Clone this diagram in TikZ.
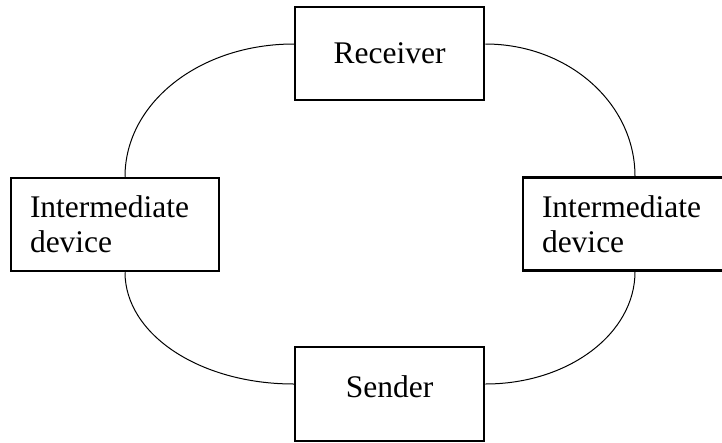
\documentclass[tikz,border=0pt]{standalone}
\usepackage{fontspec}
\setmainfont{Liberation Serif}
\begin{document}
\begin{tikzpicture}[x=1pt, y=-1pt,
  box/.style={draw, rectangle, line width=2.5pt, inner sep=0pt,
    font=\fontsize{31.5}{35}\selectfont},
  endbox/.style={box, minimum width=189pt},
  sidebox/.style={box, minimum width=208pt, minimum height=93pt,
    text width=170pt, align=left},
  link/.style={line width=1pt}]
  \useasboundingbox (0,0) rectangle (722,442);

  % end points of the ring
  \node[endbox, minimum height=93pt] (rcv) at (389.5,53.5) {Receiver};
  \node[endbox, minimum height=94pt, text height=21.5pt, text depth=15.5pt]
    (snd) at (389.5,394) {Sender};

  % devices on either side
  \node[sidebox] (left) at (115,224.5) {Intermediate\\device};
  \node[sidebox] (right) at (627,224) {Intermediate\\device};

  % curved links forming the ring
  \draw[link] ([yshift=9.5pt]rcv.west) .. controls +(-94,0) and +(0,-74) .. ([xshift=10pt]left.north);
  \draw[link] ([yshift=9.5pt]rcv.east) .. controls +(83,0) and +(0,-73) .. ([xshift=8pt]right.north);
  \draw[link] ([xshift=10pt]left.south) .. controls +(0,62) and +(-94,0) .. ([yshift=10pt]snd.west);
  \draw[link] ([xshift=8pt]right.south) .. controls +(0,62) and +(83,0) .. ([yshift=10pt]snd.east);
\end{tikzpicture}
\end{document}
